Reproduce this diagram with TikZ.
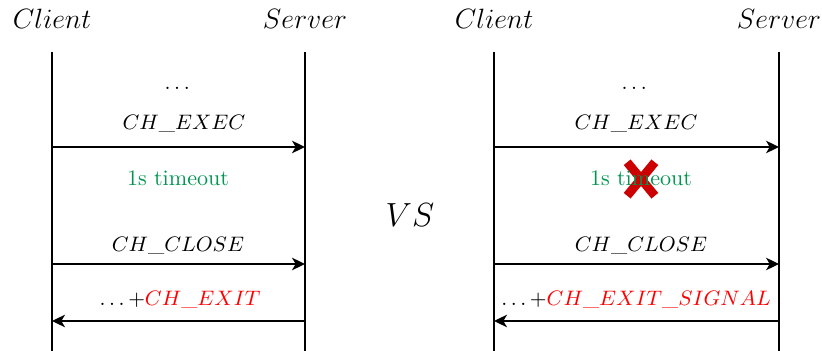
\documentclass[tikz,border=0pt]{standalone}
\usepackage{xcolor}
\usepackage{amsmath}
\usetikzlibrary{positioning,arrows.meta}
\definecolor{tmgreen}{RGB}{0,150,80}
\definecolor{xred}{RGB}{204,0,0}

\begin{document}
\begin{tikzpicture}[
  x=0.43pt,
  y=-0.43pt,
  font=\small,
  lifeline/.style={draw=black, line width=0.65pt},
  msg/.style={draw=black, line width=0.65pt, -{Stealth[length=5.6pt,width=5.4pt,inset=1.6pt]}},
  actor/.style={font=\large, inner sep=0pt},
  tmo/.style={text=tmgreen, font=\fontsize{9.5}{11}\selectfont}
]
\useasboundingbox (0,0) rectangle (822,351);
% lifelines of both sides
\foreach \p/\cx/\sx in {L/52/305, R/494/779}{
  \node[actor] (cli\p) at (\cx,19) {$Client$};
  \node[actor] (srv\p) at (\sx,19) {$Server$};
  \foreach \y/\m in {52/top,147/exec,264/close,321/exit,351/bot}{
    \coordinate (cli\p-\m) at (\cx,\y);
    \coordinate (srv\p-\m) at (\sx,\y);
  }
  \draw[lifeline] (cli\p-top) -- (cli\p-bot);
  \draw[lifeline] (srv\p-top) -- (srv\p-bot);
  \draw[msg] (cli\p-exec) -- (srv\p-exec);
  \draw[msg] (cli\p-close) -- (srv\p-close);
  \draw[msg] (srv\p-exit) -- (cli\p-exit);
}
% left: normal exit
\node (dotsL) at (179,88) {$\dots$};
\node (execL) at (184,124) {$CH\_EXEC$};
\node[tmo] (tmoL) at (178,178) {1s timeout};
\node (closeL) at (178,246) {$CH\_CLOSE$};
\node (exitL) at (180,300) {$\ldots{+}\textcolor{red}{CH\_EXIT}$};
% middle
\node[font=\Large] (vs) at (410,215) {$VS$};
% right: timeout lost
\node[minimum width=11.5pt, minimum height=14pt, inner sep=0pt] (cross) at (641,179) {};
\draw[xred, line width=3.8pt] (cross.north west) -- (cross.south east);
\draw[xred, line width=3.8pt] (cross.north east) -- (cross.south west);
\node (dotsR) at (636,88) {$\dots$};
\node (execR) at (636,124) {$CH\_EXEC$};
\node[tmo] (tmoR) at (641,178) {1s timeout};
\node (closeR) at (641,246) {$CH\_CLOSE$};
\node (exitR) at (636,300) {$\ldots{+}\textcolor{red}{CH\_EXIT\_SIGNAL}$};
\end{tikzpicture}
\end{document}
